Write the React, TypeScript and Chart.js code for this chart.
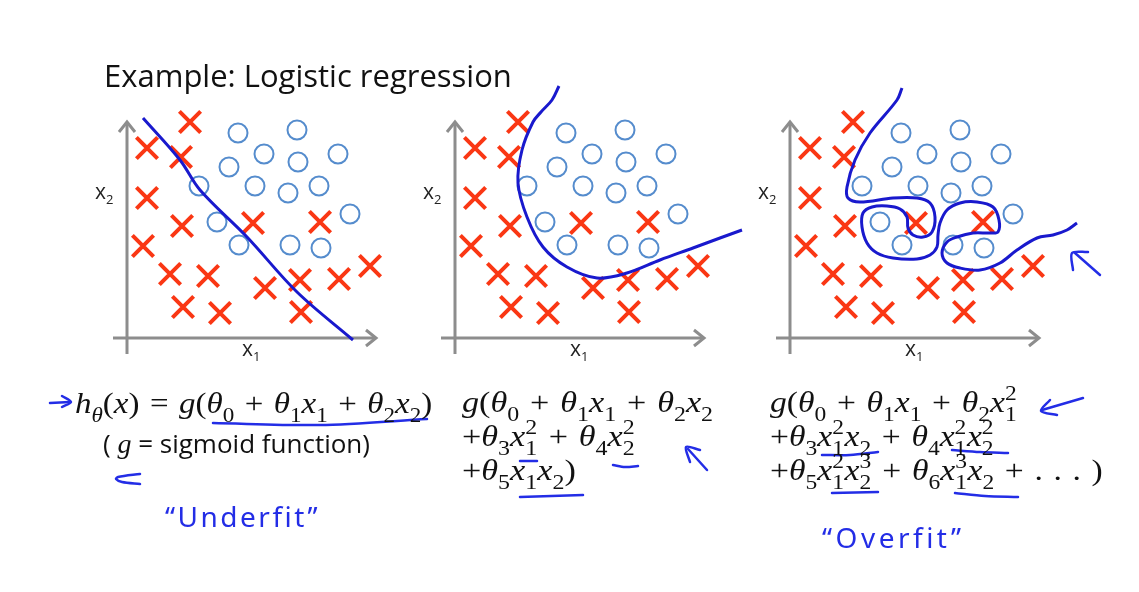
import React, { useEffect, useRef } from "react";
import { Chart, registerables } from "chart.js";

Chart.register(...registerables);

// ---------- data (units relative to the axes origin of each panel) ----------
const TITLE = "Example: Logistic regression";

const CROSSES: [number, number][] = [
  [63, 216], [20, 190], [54, 181], [20, 140], [55, 112], [126, 115], [193, 116],
  [16, 92], [43, 64], [81, 62], [138, 50], [173, 58], [212, 59], [243, 72],
  [56, 31], [93, 25], [174, 26],
];

const CIRCLES: [number, number][] = [
  [111, 205], [170, 208], [137, 184], [171, 176], [211, 184], [102, 171],
  [128, 152], [161, 145], [192, 152], [72, 152], [90, 116], [223, 124],
  [112, 93], [163, 93], [194, 90],
];

const BOUNDARY_UNDERFIT: [number, number][] = [
  [16, 220], [53, 178], [73, 148], [120, 101], [170, 46], [226, -2],
];

const BOUNDARY_QUADRATIC: [number, number][] = [
  [104, 252], [97, 238], [86, 226], [78, 216], [67, 188], [63, 155], [72, 121],
  [88, 91], [112, 71], [142, 60], [172, 65], [205, 78], [238, 90], [265, 100], [287, 108],
];

const BOUNDARY_OVERFIT: [number, number][] = [
  [112, 250], [107, 238], [80, 205], [65, 178], [57, 151], [58, 140], [70, 136],
  [103, 140], [127, 140], [140, 135], [145, 121], [142, 106], [133, 101], [123, 103],
  [118, 110], [117, 121], [110, 129], [97, 132], [82, 131], [73, 125], [72, 111],
  [77, 95], [87, 85], [103, 80], [127, 79], [140, 83], [147, 91], [148, 103],
  [150, 115], [157, 128], [170, 135], [187, 136], [203, 131], [209, 118], [208, 106],
  [200, 105], [183, 105], [167, 101], [157, 96], [152, 85], [157, 75], [170, 70],
  [190, 68], [210, 75], [227, 88], [247, 100], [263, 103], [277, 108], [287, 115],
];

const AXIS_X_EXTENT: [number, number] = [-14, 249];
const AXIS_Y_EXTENT: [number, number] = [-16, 216];

// hand-drawn pen strokes (same units)
const NOTES_UNDERFIT: [number, number][][] = [
  [[-77, -65], [-57, -64]],
  [[-65, -58], [-56, -64], [-65, -69]],
  [[86, -85], [193, -87], [300, -81]],
  [[13, -136], [-9, -139], [-11, -141], [-5, -144], [13, -146]],
];
const NOTES_QUADRATIC: [number, number][][] = [
  [[65, -123], [82, -123]],
  [[158, -127], [170, -129], [183, -128]],
  [[65, -159], [128, -157]],
  [[245, -112], [231, -109], [235, -124]],
  [[233, -111], [252, -132]],
];
const NOTES_OVERFIT: [number, number][][] = [
  [[293, -60], [252, -72]],
  [[260, -62], [251, -73], [267, -77]],
  [[32, -117], [60, -117], [88, -114]],
  [[162, -112], [190, -114], [218, -115]],
  [[42, -155], [88, -154]],
  [[165, -155], [195, -158], [228, -159]],
  [[283, 68], [282, 85], [298, 86]],
  [[285, 85], [310, 63]],
];

// ---------- styles / layout ----------
const RED = "rgb(250,55,20)";
const CIRCLE_BLUE = "rgb(85,140,205)";
const CURVE_BLUE = "rgb(25,25,205)";
const NOTE_BLUE = "rgb(35,45,230)";
const AXIS_GREY = "#8d8d8d";

const MATH_FONT = "'Liberation Serif', 'Times New Roman', serif";
const SANS_FONT = "'Open Sans', Lato, sans-serif";
const MATH_SIZE = 30;

type Panel = {
  left: number; top: number; width: number; height: number;
  xMin: number; yMin: number;
  boundary: [number, number][];
  notes: [number, number][][];
};

const PANELS: Panel[] = [
  { left: 40, top: 80, width: 420, height: 480, xMin: -87, yMin: -222, boundary: BOUNDARY_UNDERFIT, notes: NOTES_UNDERFIT },
  { left: 440, top: 80, width: 330, height: 480, xMin: -15, yMin: -222, boundary: BOUNDARY_QUADRATIC, notes: NOTES_QUADRATIC },
  { left: 760, top: 80, width: 370, height: 480, xMin: -30, yMin: -222, boundary: BOUNDARY_OVERFIT, notes: NOTES_OVERFIT },
];
const ORIGINS = PANELS.map((p) => ({ x: p.left - p.xMin, y: p.top + p.height + p.yMin }));

const toPts = (a: [number, number][]) => a.map(([x, y]) => ({ x, y }));

const arrowAxes = {
  id: "arrowAxes",
  beforeDatasetsDraw(chart: any) {
    const { ctx } = chart;
    const xs = chart.scales.x;
    const ys = chart.scales.y;
    const x0 = xs.getPixelForValue(0);
    const y0 = ys.getPixelForValue(0);
    const xa = xs.getPixelForValue(AXIS_X_EXTENT[0]);
    const xb = xs.getPixelForValue(AXIS_X_EXTENT[1]);
    const ya = ys.getPixelForValue(AXIS_Y_EXTENT[0]);
    const yb = ys.getPixelForValue(AXIS_Y_EXTENT[1]);
    ctx.save();
    ctx.strokeStyle = AXIS_GREY;
    ctx.lineWidth = 3;
    ctx.beginPath();
    ctx.moveTo(xa, y0);
    ctx.lineTo(xb, y0);
    ctx.moveTo(x0, ya);
    ctx.lineTo(x0, yb);
    ctx.stroke();
    ctx.lineJoin = "miter";
    ctx.beginPath();
    ctx.moveTo(xb - 10, y0 - 8);
    ctx.lineTo(xb, y0);
    ctx.lineTo(xb - 10, y0 + 8);
    ctx.moveTo(x0 - 8, yb + 10);
    ctx.lineTo(x0, yb);
    ctx.lineTo(x0 + 8, yb + 10);
    ctx.stroke();
    ctx.restore();
  },
};

function buildConfig(p: Panel): any {
  return {
    type: "scatter",
    data: {
      datasets: [
        {
          data: toPts(p.boundary), showLine: true, borderColor: CURVE_BLUE, borderWidth: 3,
          pointRadius: 0, tension: 0.35, fill: false, order: 0,
        },
        ...p.notes.map((s) => ({
          data: toPts(s), showLine: true, borderColor: NOTE_BLUE, borderWidth: 2.5,
          pointRadius: 0, tension: 0.3, fill: false, order: 0, borderCapStyle: "round", borderJoinStyle: "round",
        })),
        {
          data: toPts(CROSSES), pointStyle: "crossRot", pointRadius: 15, borderColor: RED,
          backgroundColor: RED, borderWidth: 4, order: 2,
        },
        {
          data: toPts(CIRCLES), pointStyle: "circle", pointRadius: 9.5, borderColor: CIRCLE_BLUE,
          backgroundColor: "rgba(0,0,0,0)", borderWidth: 2, order: 2,
        },
      ],
    },
    options: {
      responsive: false,
      maintainAspectRatio: false,
      animation: false,
      events: [],
      layout: { padding: 0, autoPadding: false },
      scales: {
        x: { type: "linear", display: false, min: p.xMin, max: p.xMin + p.width },
        y: { type: "linear", display: false, min: p.yMin, max: p.yMin + p.height },
      },
      plugins: { legend: { display: false }, tooltip: { enabled: false }, title: { display: false } },
    },
    plugins: [arrowAxes],
  };
}

// ---------- math text helpers ----------
const SUB: React.CSSProperties = { fontSize: "0.7em", verticalAlign: "-8.5px", lineHeight: 0, fontStyle: "normal" };
const Sb = ({ c }: { c: React.ReactNode }) => <span style={SUB}>{c}</span>;
const SS = ({ sup, sub }: { sup: string; sub: string }) => (
  <span style={{ position: "relative", display: "inline-block", width: 11, height: 0 }}>
    <span style={{ position: "absolute", left: 0, bottom: 8, fontSize: "0.7em", lineHeight: 1, fontStyle: "normal" }}>{sup}</span>
    <span style={{ position: "absolute", left: 0, top: -8.5, fontSize: "0.7em", lineHeight: 1, fontStyle: "normal" }}>{sub}</span>
  </span>
);
const Th = ({ n }: { n: string }) => (<><i>θ</i><Sb c={n} /></>);
const X = ({ n }: { n: string }) => (<><i>x</i><Sb c={n} /></>);
const XS = ({ sup, sub }: { sup: string; sub: string }) => (<><i>x</i><SS sup={sup} sub={sub} /></>);

const mathLine = (left: number, baseline: number, stretch: number): React.CSSProperties => ({
  position: "absolute", left, top: baseline - 25, fontFamily: MATH_FONT, fontSize: MATH_SIZE,
  lineHeight: `${MATH_SIZE}px`, whiteSpace: "nowrap", color: "#111", wordSpacing: 2,
  transform: `scaleX(${stretch})`, transformOrigin: "0 0",
});

const AxisLabel = ({ left, top, n }: { left: number; top: number; n: string }) => (
  <div style={{ position: "absolute", left, top, fontFamily: SANS_FONT, fontSize: 21, lineHeight: "21px", color: "#222", whiteSpace: "nowrap" }}>
    x<span style={{ fontSize: 13, verticalAlign: "-5px", lineHeight: 0 }}>{n}</span>
  </div>
);

export default function App() {
  const r0 = useRef<HTMLCanvasElement>(null);
  const r1 = useRef<HTMLCanvasElement>(null);
  const r2 = useRef<HTMLCanvasElement>(null);
  useEffect(() => {
    const refs = [r0, r1, r2];
    const charts = PANELS.map((p, i) => new Chart(refs[i].current as HTMLCanvasElement, buildConfig(p)));
    return () => charts.forEach((c) => c.destroy());
  }, []);
  const refs = [r0, r1, r2];

  return (
    <div style={{ position: "absolute", left: 0, top: 0, width: 1139, height: 592, background: "#fff", overflow: "hidden" }}>
      {PANELS.map((p, i) => (
        <canvas
          key={i}
          ref={refs[i]}
          width={p.width}
          height={p.height}
          style={{ position: "absolute", left: p.left, top: p.top, width: p.width, height: p.height }}
        />
      ))}

      <div style={{ position: "absolute", left: 104, top: 60, fontFamily: SANS_FONT, fontSize: 31, lineHeight: "31px", color: "#111", whiteSpace: "nowrap", fontVariantLigatures: "none" }}>
        {TITLE}
      </div>

      {ORIGINS.map((o, i) => (
        <React.Fragment key={i}>
          <AxisLabel left={o.x - 32} top={181} n="2" />
          <AxisLabel left={o.x + 115} top={338} n="1" />
        </React.Fragment>
      ))}

      {/* panel 1 formulas */}
      <div style={mathLine(75, 413, 1.1)}>
        <i>h</i><Sb c={<i>θ</i>} />(<i>x</i>) = <i>g</i>(<Th n="0" /> + <Th n="1" /><X n="1" /> + <Th n="2" /><X n="2" />)
      </div>
      <div style={{ position: "absolute", left: 103, top: 430, fontFamily: SANS_FONT, fontSize: 26, lineHeight: "26px", color: "#111", whiteSpace: "nowrap" }}>
        ( <i style={{ fontFamily: MATH_FONT, fontSize: 28 }}>g</i> = sigmoid function)
      </div>
      <div style={{ position: "absolute", left: 165, top: 502, fontFamily: "'Noto Sans', sans-serif", fontSize: 28, lineHeight: "28px", color: NOTE_BLUE, letterSpacing: 2.5, whiteSpace: "nowrap" }}>
        “Underfit”
      </div>

      {/* panel 2 formulas */}
      <div style={mathLine(462, 412, 1.14)}>
        <i>g</i>(<Th n="0" /> + <Th n="1" /><X n="1" /> + <Th n="2" /><X n="2" />
      </div>
      <div style={mathLine(462, 446, 1.14)}>
        +<Th n="3" /><XS sup="2" sub="1" /> + <Th n="4" /><XS sup="2" sub="2" />
      </div>
      <div style={mathLine(462, 480, 1.14)}>
        +<Th n="5" /><X n="1" /><X n="2" />)
      </div>

      {/* panel 3 formulas */}
      <div style={mathLine(770, 412, 1.12)}>
        <i>g</i>(<Th n="0" /> + <Th n="1" /><X n="1" /> + <Th n="2" /><XS sup="2" sub="1" />
      </div>
      <div style={mathLine(770, 446, 1.12)}>
        +<Th n="3" /><XS sup="2" sub="1" /><X n="2" /> + <Th n="4" /><XS sup="2" sub="1" /><XS sup="2" sub="2" />
      </div>
      <div style={mathLine(770, 480, 1.12)}>
        +<Th n="5" /><XS sup="2" sub="1" /><XS sup="3" sub="2" /> + <Th n="6" /><XS sup="3" sub="1" /><X n="2" /> + . . . )
      </div>
      <div style={{ position: "absolute", left: 822, top: 523, fontFamily: "'Noto Sans', sans-serif", fontSize: 28, lineHeight: "28px", color: NOTE_BLUE, letterSpacing: 3.5, whiteSpace: "nowrap" }}>
        “Overfit”
      </div>
    </div>
  );
}
